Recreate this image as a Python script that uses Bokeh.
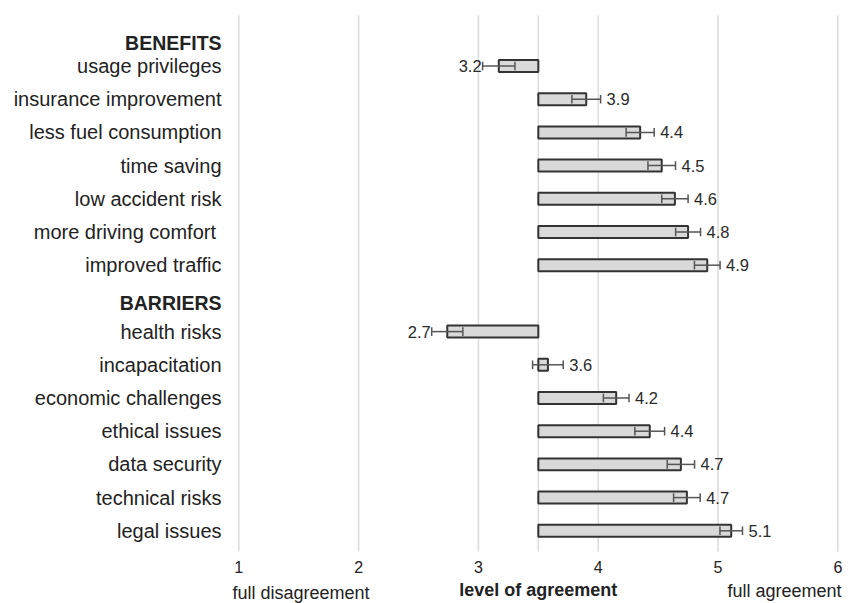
from bokeh.plotting import figure
from bokeh.models import Range1d, ColumnDataSource
from bokeh.core.properties import value
from bokeh.embed import file_html
from bokeh.resources import INLINE

# ---- data ----
benefit_labels = ["usage privileges", "insurance improvement", "less fuel consumption",
                  "time saving", "low accident risk", "more driving comfort ", "improved traffic"]
benefit_means = [3.17, 3.90, 4.35, 4.53, 4.64, 4.75, 4.91]
benefit_errors = [0.135, 0.12, 0.117, 0.115, 0.11, 0.104, 0.107]
benefit_texts = ["3.2", "3.9", "4.4", "4.5", "4.6", "4.8", "4.9"]

barrier_labels = ["health risks", "incapacitation", "economic challenges", "ethical issues",
                  "data security", "technical risks", "legal issues"]
barrier_means = [2.74, 3.58, 4.15, 4.43, 4.69, 4.74, 5.11]
barrier_errors = [0.13, 0.128, 0.107, 0.124, 0.114, 0.111, 0.094]
barrier_texts = ["2.7", "3.6", "4.2", "4.4", "4.7", "4.7", "5.1"]

group_headers = ["BENEFITS", "BARRIERS"]
x_ticks = [1, 2, 3, 4, 5, 6]
x_tick_labels = ["1", "2", "3", "4", "5", "6"]
midpoint = 3.5
axis_texts = ["full disagreement", "level of agreement", "full agreement"]

FONT = "Liberation Sans"
TXT = "#222222"

# rows: benefits 1..7, barriers 9..15
labels = benefit_labels + barrier_labels
means = benefit_means + barrier_means
errors = benefit_errors + barrier_errors
texts = benefit_texts + barrier_texts
rows = list(range(1, 1 + len(benefit_labels))) + \
       list(range(len(benefit_labels) + 2, len(benefit_labels) + 2 + len(barrier_labels)))

lo = [m - e for m, e in zip(means, errors)]
hi = [m + e for m, e in zip(means, errors)]
pos_idx = [i for i, m in enumerate(means) if m >= midpoint]
neg_idx = [i for i, m in enumerate(means) if m < midpoint]

p = figure(width=854, height=603, output_backend="svg", toolbar_location=None,
           x_range=Range1d(-0.989, 6.139), y_range=Range1d(17.19, -0.973),
           min_border_left=0, min_border_right=0, min_border_top=0, min_border_bottom=0)
p.outline_line_color = None
p.background_fill_color = "white"
p.border_fill_color = "white"
p.axis.visible = False
p.grid.visible = False

# vertical grid lines (integer ticks plus the midpoint)
grid_top, grid_bottom = -0.52, 15.62
grid_x = x_ticks + [midpoint]
p.segment(x0=grid_x, y0=[grid_top] * len(grid_x), x1=grid_x, y1=[grid_bottom] * len(grid_x),
          line_color="#dcdcdc", line_width=1.5)

# tick labels
p.text(x=x_ticks, y=[16.08] * len(x_ticks), text=x_tick_labels, text_align="center",
       text_baseline="middle", text_font=value(FONT), text_font_size="16px", text_color=TXT)

src = ColumnDataSource(dict(y=rows, left=[midpoint] * len(rows), right=means,
                            lo=lo, hi=hi, label=labels, text=texts))

p.hbar(y="y", left="left", right="right", height=0.36, source=src,
       fill_color="#d9d9d9", line_color="#333333", line_width=2)

# error bars
p.segment(x0="lo", y0="y", x1="hi", y1="y", source=src, line_color="#555555", line_width=1.5)
cap = 0.13
p.segment(x0=lo, y0=[r - cap for r in rows], x1=lo, y1=[r + cap for r in rows],
          line_color="#555555", line_width=1.5)
p.segment(x0=hi, y0=[r - cap for r in rows], x1=hi, y1=[r + cap for r in rows],
          line_color="#555555", line_width=1.5)

# value labels
p.text(x=[hi[i] for i in pos_idx], y=[rows[i] for i in pos_idx], text=[texts[i] for i in pos_idx],
       x_offset=6, text_align="left", text_baseline="middle",
       text_font=value(FONT), text_font_size="16.5px", text_color="#2a2a2a")
p.text(x=[lo[i] for i in neg_idx], y=[rows[i] for i in neg_idx], text=[texts[i] for i in neg_idx],
       x_offset=-1, text_align="right", text_baseline="middle",
       text_font=value(FONT), text_font_size="16.5px", text_color="#2a2a2a")

# category labels
label_x = 0.856
p.text(x=[label_x] * len(rows), y=rows, text=labels, text_align="right", text_baseline="middle",
       text_font=value(FONT), text_font_size="20px", text_color=TXT)
p.text(x=[label_x] * 2, y=[0.32, len(benefit_labels) + 1.15], text=group_headers,
       text_align="right", text_baseline="middle", text_font=value(FONT),
       text_font_size="19.5px", text_font_style="bold", text_color=TXT)

# bottom axis descriptions
p.text(x=[0.947, 6.03], y=[16.86, 16.80], text=[axis_texts[0], axis_texts[2]],
       text_align=["left", "right"], text_baseline="alphabetic",
       text_font=value(FONT), text_font_size="18px", text_color=TXT)
p.text(x=[midpoint], y=[16.78], text=[axis_texts[1]], text_align="center", text_baseline="alphabetic",
       text_font=value(FONT), text_font_size="18px", text_font_style="bold", text_color=TXT)

open("out.html", "w").write(file_html(p, INLINE))
